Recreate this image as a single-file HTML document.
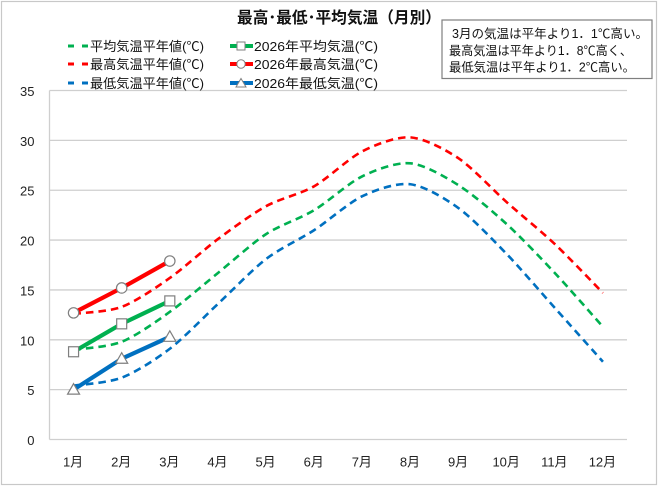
<!DOCTYPE html>
<html><head><meta charset="utf-8">
<style>
html,body{margin:0;padding:0;background:#fff;}
svg{display:block;font-family:"Liberation Sans","Noto Sans CJK JP",sans-serif;}
</style></head>
<body>
<svg id="c" xmlns="http://www.w3.org/2000/svg" width="660" height="487" viewBox="0 0 660 487">
<rect x="0" y="0" width="660" height="487" fill="#fff"/>
<rect x="1.5" y="1.5" width="655" height="483" fill="none" stroke="#c8c8c8" stroke-width="1.2"/>
<g id="grid" stroke="#cfcfcf" stroke-width="1.3"></g>
<line x1="49.5" y1="90.5" x2="49.5" y2="439.5" stroke="#cfcfcf" stroke-width="1.3"/>
<g id="ylab" font-size="13" fill="#222" text-anchor="end"></g>
<g id="xlab" font-size="13" fill="#222" text-anchor="middle"></g>
<g id="series"></g>
<text x="339" y="23" font-size="16" font-weight="bold" fill="#111" text-anchor="middle" textLength="204" lengthAdjust="spacingAndGlyphs">最高･最低･平均気温（月別）</text>
<!-- legend -->
<g font-size="13" fill="#111">
  <line x1="68" y1="46" x2="74" y2="46" stroke="#00b050" stroke-width="3"/>
  <line x1="82" y1="46" x2="88" y2="46" stroke="#00b050" stroke-width="3"/>
  <text x="90" y="51" textLength="114" lengthAdjust="spacingAndGlyphs">平均気温平年値(℃)</text>
  <line x1="68" y1="64" x2="74" y2="64" stroke="#ff0000" stroke-width="3"/>
  <line x1="82" y1="64" x2="88" y2="64" stroke="#ff0000" stroke-width="3"/>
  <text x="90" y="69" textLength="114" lengthAdjust="spacingAndGlyphs">最高気温平年値(℃)</text>
  <line x1="68" y1="83" x2="74" y2="83" stroke="#0070c0" stroke-width="3"/>
  <line x1="82" y1="83" x2="88" y2="83" stroke="#0070c0" stroke-width="3"/>
  <text x="90" y="88" textLength="114" lengthAdjust="spacingAndGlyphs">最低気温平年値(℃)</text>

  <line x1="230" y1="46" x2="253" y2="46" stroke="#00b050" stroke-width="4"/>
  <rect x="237" y="42" width="8" height="8" fill="#fff" stroke="#7f7f7f" stroke-width="1"/>
  <text x="254" y="51" textLength="124" lengthAdjust="spacingAndGlyphs">2026年平均気温(℃)</text>
  <line x1="230" y1="64" x2="253" y2="64" stroke="#ff0000" stroke-width="4"/>
  <circle cx="241" cy="64" r="4.2" fill="#fff" stroke="#7f7f7f" stroke-width="1"/>
  <text x="254" y="69" textLength="124" lengthAdjust="spacingAndGlyphs">2026年最高気温(℃)</text>
  <line x1="230" y1="83" x2="253" y2="83" stroke="#0070c0" stroke-width="4"/>
  <polygon points="241,78.5 246,87 236,87" fill="#fff" stroke="#7f7f7f" stroke-width="1"/>
  <text x="254" y="88" textLength="124" lengthAdjust="spacingAndGlyphs">2026年最低気温(℃)</text>
</g>
<!-- text box -->
<rect x="442" y="20" width="210" height="58.5" fill="#fff" stroke="#7f7f7f" stroke-width="1.2"/>
<g font-size="12.5" fill="#111">
  <text x="452" y="38" textLength="196" lengthAdjust="spacingAndGlyphs">3月の気温は平年より1．1℃高い。</text>
  <text x="449" y="55" textLength="183" lengthAdjust="spacingAndGlyphs">最高気温は平年より1．8℃高く、</text>
  <text x="449" y="71.5" textLength="186" lengthAdjust="spacingAndGlyphs">最低気温は平年より1．2℃高い。</text>
</g>
</svg>
<script>
(function(){
var NS="http://www.w3.org/2000/svg";
function el(t,a,p){var e=document.createElementNS(NS,t);for(var k in a)e.setAttribute(k,a[k]);(p||document.getElementById('series')).appendChild(e);return e;}
function X(i){return 49.5+(i+0.5)*48.125;}
function Y(v){return 439.5-v*9.971;}
var grid=document.getElementById('grid'),yl=document.getElementById('ylab'),xl=document.getElementById('xlab');
for(var v=0;v<=35;v+=5){var y=Y(v);el('line',{x1:49.5,y1:y,x2:627,y2:y},grid);var t=el('text',{x:34.5,y:y+5.5},yl);t.textContent=v;}
for(var i=0;i<12;i++){var t=el('text',{x:X(i)-0.5,y:466.5},xl);t.textContent=(i+1)+'月';}
var avgN=[9.0,9.8,12.8,16.7,20.6,23.0,26.4,27.7,25.5,21.6,16.7,11.3];
var maxN=[12.6,13.3,16.2,20.1,23.4,25.4,28.9,30.3,28.2,23.8,19.6,14.7];
var minN=[5.4,6.2,9.1,13.6,18.1,21.0,24.4,25.6,23.2,18.6,13.2,7.8];
var K=7;
function smooth(d){var p=d.map(function(v,i){return [X(i),Y(v)];});var s='M'+p[0][0]+','+p[0][1];
 for(var i=0;i<p.length-1;i++){var p0=p[i-1]||p[i],p1=p[i],p2=p[i+1],p3=p[i+2]||p[i+1];
  var c1=[p1[0]+(p2[0]-p0[0])/K,p1[1]+(p2[1]-p0[1])/K],c2=[p2[0]-(p3[0]-p1[0])/K,p2[1]-(p3[1]-p1[1])/K];
  s+=' C'+c1[0].toFixed(2)+','+c1[1].toFixed(2)+' '+c2[0].toFixed(2)+','+c2[1].toFixed(2)+' '+p2[0].toFixed(2)+','+p2[1].toFixed(2);}
 return s;}
[[avgN,'#00b050'],[maxN,'#ff0000'],[minN,'#0070c0']].forEach(function(a){
 el('path',{d:smooth(a[0]),fill:'none',stroke:a[1],'stroke-width':2.6,'stroke-dasharray':'7.5 5'});});
var a26=[8.8,11.6,13.9],m26=[12.7,15.2,17.9],n26=[5.0,8.1,10.3];
function poly(d,c){el('polyline',{points:d.map(function(v,i){return X(i)+','+Y(v);}).join(' '),fill:'none',stroke:c,'stroke-width':4.2,'stroke-linejoin':'round'});}
poly(m26,'#ff0000');poly(a26,'#00b050');poly(n26,'#0070c0');
var ms={fill:'#fff',stroke:'#7f7f7f','stroke-width':1.2};
function mk(t,a){for(var k in ms)a[k]=ms[k];el(t,a);}
m26.forEach(function(v,i){mk('circle',{cx:X(i),cy:Y(v),r:5.2});});
a26.forEach(function(v,i){mk('rect',{x:X(i)-5,y:Y(v)-5,width:10,height:10});});
n26.forEach(function(v,i){var x=X(i),y=Y(v);mk('polygon',{points:x+','+(y-6)+' '+(x+6)+','+(y+4.5)+' '+(x-6)+','+(y+4.5)});});
})();
</script>
</body></html>
